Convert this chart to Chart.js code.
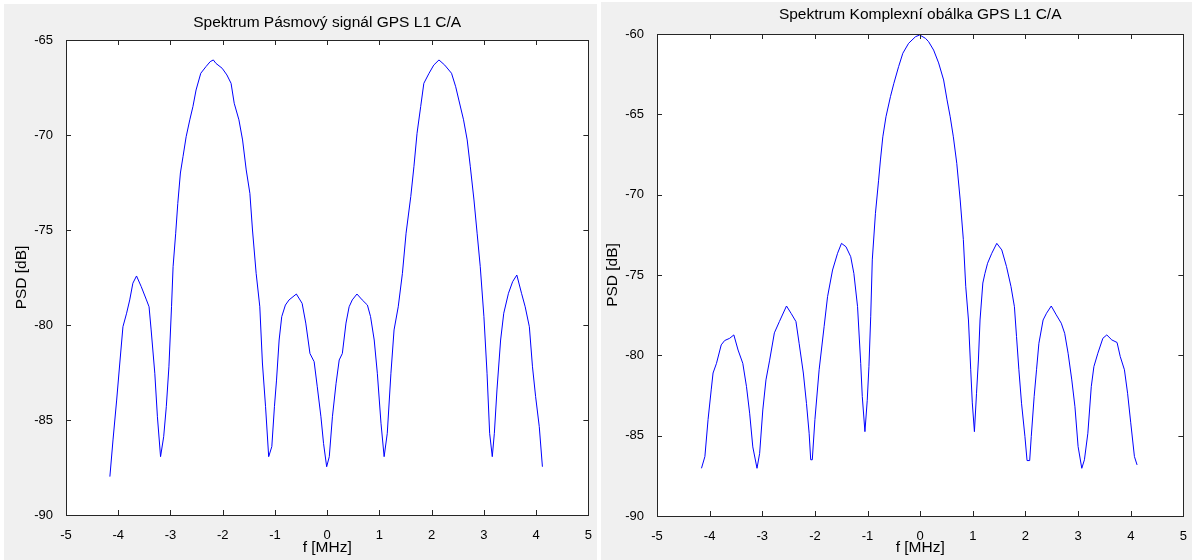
<!DOCTYPE html>
<html>
<head>
<meta charset="utf-8">
<script src="https://cdn.jsdelivr.net/npm/chart.js@4.4.0/dist/chart.umd.min.js"></script>
<style>
    body { margin: 0; background: #ffffff; width: 1192px; height: 560px; overflow: hidden; }
    canvas { position: absolute; background: #f0f0f0; }
    #grafPasmovy { left: 4px; top: 4px; }
    #grafObalka { left: 601px; top: 2px; }
</style>
</head>
<body>
<canvas id="grafPasmovy" width="593" height="556"></canvas>
<canvas id="grafObalka" width="591" height="558"></canvas>
<script>
// data - pasmovy signal
const pasmFreq = [-4.16, -4.10, -4.03, -3.97, -3.91, -3.84, -3.78, -3.72, -3.65, -3.56, -3.46, -3.41, -3.37, -3.30, -3.25, -3.19,
    -3.13, -3.08, -3.03, -2.98, -2.95, -2.90, -2.86, -2.81, -2.76, -2.70, -2.63, -2.57, -2.51, -2.42, -2.32, -2.24, -2.18,
    -2.13, -2.01, -1.92, -1.84, -1.78, -1.69, -1.62, -1.55, -1.48, -1.43, -1.36, -1.29, -1.24, -1.18, -1.12,
    -1.06, -1.01, -0.97, -0.92, -0.87, -0.80, -0.73, -0.59, -0.48, -0.41, -0.33, -0.25, -0.19, -0.12, -0.07, -0.01,
    0.04, 0.10, 0.17, 0.23, 0.29, 0.36, 0.42, 0.48, 0.57, 0.67, 0.77, 0.83, 0.90, 0.96, 1.03, 1.09,
    1.15, 1.22, 1.28, 1.36, 1.44, 1.51, 1.60, 1.66, 1.72, 1.79, 1.85, 1.95, 2.04, 2.14,
    2.25, 2.38, 2.46, 2.52, 2.61, 2.68, 2.74, 2.81, 2.87, 2.93, 3.00, 3.06, 3.11, 3.16,
    3.20, 3.25, 3.32, 3.38, 3.47, 3.55, 3.63, 3.72, 3.79, 3.87, 3.93, 3.99, 4.06, 4.12]
const pasmPsd = [-87.98, -86.05, -83.95, -82.0, -80.09, -79.38, -78.68, -77.8, -77.42, -77.98, -78.68, -79.04, -80.26, -82.54, -84.83, -86.93,
    -85.88, -84.3, -82.2, -79.04, -76.93, -75.17, -73.6, -72.0, -71.14, -70.09, -69.2, -68.5, -67.63, -66.75, -66.4, -66.14, -66.05,
    -66.23, -66.49, -66.84, -67.28, -68.33, -69.2, -70.26, -71.84, -73.07, -75.0, -77.28, -79.04, -82.0, -84.3, -86.93,
    -86.4, -84.3, -82.9, -80.79, -79.56, -78.95, -78.68, -78.37, -78.86, -79.9, -81.5, -81.93, -83.25, -84.83, -86.23, -87.46,
    -86.93, -84.83, -83.07, -81.84, -81.5, -79.9, -79.04, -78.68, -78.37, -78.68, -78.95, -79.56, -80.79, -82.54, -85.17, -86.93,
    -85.7, -82.54, -80.26, -79.04, -77.28, -75.17, -73.24, -71.67, -69.91, -68.5, -67.28, -66.75, -66.32, -66.05,
    -66.32, -66.75, -67.46, -68.16, -69.2, -70.26, -71.67, -73.42, -75.17, -76.93, -79.56, -82.54, -85.7, -86.93,
    -85.7, -83.42, -80.79, -79.38, -78.33, -77.72, -77.37, -78.33, -79.04, -80.09, -82.2, -83.77, -85.35, -87.46]

// data - komplexni obalka
const obalFreq = [-4.155, -4.09, -4.03, -3.97, -3.935, -3.87, -3.78, -3.715, -3.62, -3.54, -3.46, -3.37, -3.30, -3.24, -3.18, -3.10,
    -3.05, -2.99, -2.93, -2.86, -2.77, -2.675, -2.54, -2.45, -2.36, -2.30, -2.22, -2.16, -2.11, -2.08, -2.05,
    -2.0, -1.92, -1.825, -1.76, -1.665, -1.57, -1.495, -1.41, -1.32, -1.26, -1.19, -1.13, -1.10, -1.05,
    -1.006, -0.974, -0.94, -0.91, -0.85, -0.79, -0.755, -0.71, -0.65, -0.565, -0.50, -0.41, -0.33, -0.22, -0.09, -0.01,
    0.10, 0.16, 0.255, 0.35, 0.445, 0.51, 0.57, 0.63, 0.695, 0.76, 0.82, 0.865, 0.917, 0.96, 0.99, 1.03,
    1.07, 1.106, 1.137, 1.19, 1.23, 1.28, 1.36, 1.455, 1.55, 1.64, 1.725, 1.79, 1.83, 1.875, 1.925, 1.99, 2.03, 2.08,
    2.11, 2.165, 2.21, 2.255, 2.335, 2.40, 2.49, 2.585, 2.68, 2.745, 2.81, 2.88, 2.94, 3.0, 3.07,
    3.12, 3.185, 3.25, 3.30, 3.375, 3.47, 3.545, 3.64, 3.74, 3.80, 3.88, 3.94, 4.0, 4.07, 4.12]
const obalPsd = [-87.03, -86.3, -84.0, -82.15, -81.1, -80.5, -79.35, -79.08, -78.94, -78.73, -79.67, -80.5, -81.95, -83.6, -85.7, -87.03,
    -86.1, -83.4, -81.53, -80.3, -78.6, -77.9, -76.93, -77.4, -77.9, -79.25, -81.1, -83.0, -84.85, -86.5, -86.5,
    -84.0, -80.9, -78.2, -76.35, -74.69, -73.65, -73.03, -73.24, -73.86, -74.9, -76.97, -80.5, -82.57, -84.75,
    -82.8, -80.7, -77.6, -74.06, -71.16, -69.1, -67.84, -66.4, -65.15, -63.9, -63.07, -62.03, -61.2, -60.58, -60.17, -60.06,
    -60.27, -60.48, -61.0, -61.8, -62.86, -64.1, -65.15, -66.4, -68.05, -70.33, -72.8, -75.7, -77.8, -80.9, -82.96, -84.75,
    -82.36, -80.29, -77.8, -75.5, -74.9, -74.27, -73.65, -73.03, -73.44, -74.48, -75.72, -76.97, -78.83, -80.9, -82.98, -85.06, -86.55, -86.55,
    -85.06, -82.57, -80.9, -79.25, -77.8, -77.38, -76.93, -77.48, -78.0, -78.63, -79.87, -81.53, -83.2, -85.68, -87.03,
    -86.5, -84.85, -81.95, -80.7, -79.87, -78.94, -78.73, -79.04, -79.2, -80.07, -80.9, -82.36, -84.2, -86.3, -86.82]

const xTicks = [-5, -4, -3, -2, -1, 0, 1, 2, 3, 4, 5]
const pasmYTicks = [-90, -85, -80, -75, -70, -65]
const obalYTicks = [-90, -85, -80, -75, -70, -65, -60]

const pismo = { family: '"Liberation Sans", Arial, sans-serif', size: 13 }
const pismoPopis = { family: '"Liberation Sans", Arial, sans-serif', size: 15.5, weight: 'normal' }

// bila plocha grafu + ramecek + ticky dovnitr (jako matlab)
const matlabOsy = {
    id: 'matlabOsy',
    beforeDatasetsDraw(chart) {
        const a = chart.chartArea
        const c = chart.ctx
        c.save()
        c.fillStyle = '#ffffff'
        c.fillRect(a.left, a.top, a.right - a.left, a.bottom - a.top)
        c.restore()
    },
    afterDraw(chart) {
        const a = chart.chartArea
        const c = chart.ctx
        const sx = chart.scales.x
        const sy = chart.scales.y
        const delka = 5
        c.save()
        c.strokeStyle = '#262626'
        c.lineWidth = 1
        c.beginPath()
        sx.ticks.forEach(t => {
            let px = Math.round(sx.getPixelForValue(t.value)) + 0.5
            c.moveTo(px, a.bottom); c.lineTo(px, a.bottom - delka)
            c.moveTo(px, a.top); c.lineTo(px, a.top + delka)
        })
        sy.ticks.forEach(t => {
            let py = Math.round(sy.getPixelForValue(t.value)) + 0.5
            c.moveTo(a.left, py); c.lineTo(a.left + delka, py)
            c.moveTo(a.right, py); c.lineTo(a.right - delka, py)
        })
        c.stroke()
        c.strokeRect(Math.round(a.left) + 0.5, Math.round(a.top) + 0.5, Math.round(a.right - a.left), Math.round(a.bottom - a.top))
        c.restore()
    }
}

function graf(id, nadpis, freq, psd, yTicks, nast) {
    let body = []
    for (let i = 0; i < freq.length; i++) {
        body.push({ x: freq[i], y: psd[i] })
    }
    return new Chart(document.getElementById(id), {
        type: 'line',
        data: {
            datasets: [{
                data: body,
                borderColor: '#0000ff',
                borderWidth: 1,
                pointRadius: 0,
                tension: 0,
                fill: false
            }]
        },
        options: {
            responsive: false,
            animation: false,
            layout: { padding: { left: 0, right: nast.pravo, top: 0, bottom: 0 } },
            plugins: {
                legend: { display: false },
                tooltip: { enabled: false },
                title: {
                    display: true,
                    text: nadpis,
                    fullSize: false,
                    color: '#000000',
                    font: pismoPopis,
                    padding: { top: nast.titTop, bottom: nast.titBottom }
                }
            },
            scales: {
                x: {
                    type: 'linear',
                    min: xTicks[0],
                    max: xTicks[xTicks.length - 1],
                    afterBuildTicks: s => { s.ticks = xTicks.map(v => ({ value: v })) },
                    afterFit: s => { s.height = nast.xVyska },
                    grid: { display: false },
                    border: { display: false },
                    ticks: { color: '#000000', font: pismo, padding: 5, maxRotation: 0, autoSkip: false },
                    title: { display: true, text: 'f [MHz]', color: '#000000', font: pismoPopis, padding: { top: 0, bottom: 2.7 } }
                },
                y: {
                    type: 'linear',
                    min: yTicks[0],
                    max: yTicks[yTicks.length - 1],
                    afterBuildTicks: s => { s.ticks = yTicks.map(v => ({ value: v })) },
                    afterFit: s => { s.width = nast.ySirka },
                    grid: { display: false },
                    border: { display: false },
                    ticks: { color: '#000000', font: pismo, padding: 5, autoSkip: false },
                    title: { display: true, text: 'PSD [dB]', color: '#000000', font: pismoPopis, padding: { top: nast.yTitPad, bottom: 0 } }
                }
            }
        },
        plugins: [matlabOsy]
    })
}

window.onload = () => {
    graf('grafPasmovy', 'Spektrum Pásmový signál GPS L1 C/A', pasmFreq, pasmPsd, pasmYTicks,
        { pravo: 7, titTop: 9.7, titBottom: 7.7, xVyska: 45, ySirka: 62, yTitPad: 8.7 })
    graf('grafObalka', 'Spektrum Komplexní obálka GPS L1 C/A', obalFreq, obalPsd, obalYTicks,
        { pravo: 6, titTop: 3.7, titBottom: 9.7, xVyska: 44, ySirka: 56, yTitPad: 2.7 })
}
</script>
</body>
</html>
